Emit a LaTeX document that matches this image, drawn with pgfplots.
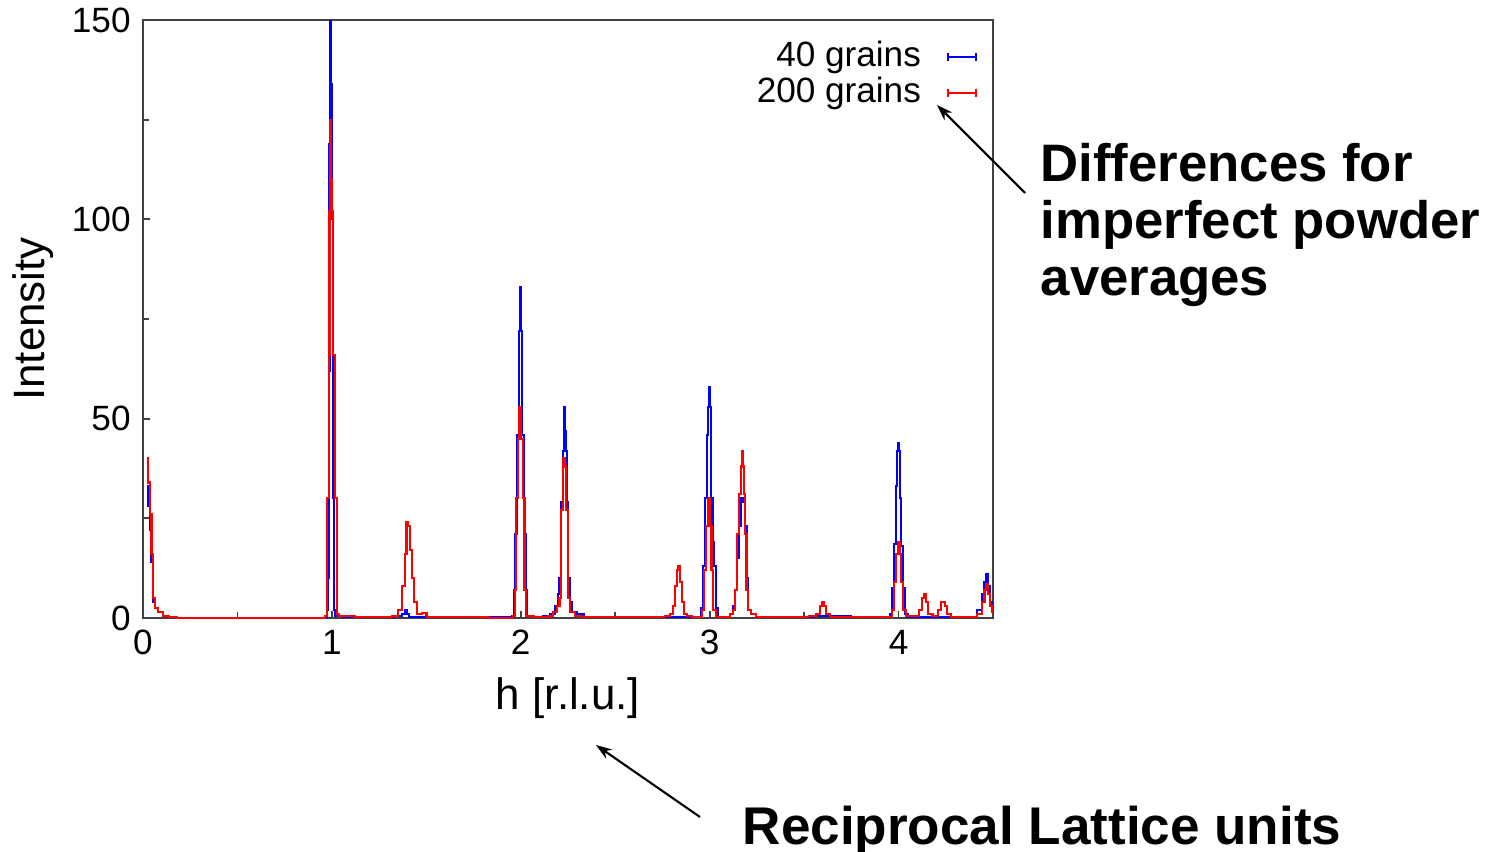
\documentclass[border=0pt]{standalone}
\usepackage{fontspec}
\setmainfont{Liberation Sans}
\usepackage{pgfplots}
\pgfplotsset{compat=1.18}
\usetikzlibrary{arrows.meta}

\begin{document}
\begin{tikzpicture}
\useasboundingbox (0,0) rectangle (14.95,8.51);
\begin{axis}[
    at={(1.43cm,2.33cm)}, anchor=south west,
    scale only axis, width=8.5cm, height=5.98cm,
    xmin=0, xmax=4.5, ymin=0, ymax=150,
    xtick={0,1,2,3,4}, ytick={0,50,100,150},
    minor x tick num=1, minor y tick num=1,
    xtick pos=left, ytick pos=left,
    tick align=inside,
    major tick length=0.07cm, minor tick length=0.06cm,
    axis line style={black!75, line width=0.6pt},
    every tick/.style={black!75, line width=0.5pt},
    tick label style={font=\fontsize{10}{10}\selectfont, /pgf/number format/assume math mode=true},
    xlabel={h [r.l.u.]}, ylabel={Intensity},
    label style={font=\fontsize{12.5}{12.5}\selectfont},
    xlabel style={at={(axis description cs:0.5,0)}, anchor=center, yshift=-0.80cm},
    ylabel style={at={(axis description cs:-0.1294,0.5)}, anchor=center},
    legend plot pos=right,
    legend cell align=right,
    legend style={draw=none, fill=none, at={(axis description cs:0.982,0.977)}, anchor=north east,
        font=\fontsize{10}{10}\selectfont, row sep=-2.5pt, inner sep=0pt},
]
\addplot[blue, line width=0.6pt, const plot mark mid,
    legend image code/.code={
        \path[draw=none, fill=none] (0cm,0cm) -- (0.2cm,0cm);
        \draw[blue, line width=0.6pt] (0.2cm,0cm) -- (0.48cm,0cm);
        \draw[blue, line width=0.6pt] (0.2cm,-0.04cm) -- (0.2cm,0.04cm);
        \draw[blue, line width=0.6pt] (0.48cm,-0.04cm) -- (0.48cm,0.04cm);}]
coordinates {
(0.02,33)(0.03,28)(0.04,22)(0.05,14)(0.06,4)(0.07,2.5)(0.09,1.5)(0.12,0.5)(0.16,0.2)(0.2,0)(0.5,0)(0.95,0)
(0.97,0)(0.975,2)(0.98,10)(0.985,62)(0.99,119)(0.995,150)(1.0,134)(1.005,100)(1.01,30)(1.015,2)(1.02,0.5)
(1.1,0.3)(1.3,0.3)(1.36,0.5)(1.38,1)(1.39,2)(1.40,1)(1.42,0.3)(1.6,0.2)(1.8,0.3)(1.95,0.3)
(1.96,0.5)(1.965,7)(1.975,21)(1.985,46)(1.995,72)(2.0,83)(2.005,72)(2.01,46)(2.02,21)(2.03,7)(2.04,0.5)
(2.1,0.3)(2.14,0.5)(2.17,1)(2.19,3)(2.2,6)(2.21,10)(2.22,29)(2.225,42)(2.23,53)(2.235,47)(2.24,42)(2.245,29)
(2.255,10)(2.265,4)(2.28,1.5)(2.32,1)(2.35,0.3)(2.5,0.2)(2.7,0.2)(2.8,0.3)
(2.95,0.3)(2.96,2.5)(2.97,13)(2.98,30)(2.99,46)(2.995,53)(3.0,58)(3.005,53)(3.01,30)(3.02,19)(3.03,13)(3.04,2.5)(3.05,0.3)
(3.1,0.3)(3.12,1)(3.13,3)(3.14,7)(3.15,15)(3.16,23)(3.17,30)(3.18,29)(3.19,23)(3.2,10)(3.21,2)(3.23,1)(3.26,0.3)
(3.5,0.3)(3.6,0.5)(3.7,0.5)(3.8,0.2)(3.9,0.2)
(3.95,0.3)(3.96,1)(3.97,7.5)(3.98,18.6)(3.99,33)(3.995,42)(4.0,44)(4.005,42)(4.01,30)(4.02,18)(4.03,7.5)(4.04,1)(4.06,0.3)
(4.3,0.3)(4.4,0.3)(4.43,2)(4.45,6)(4.46,9)(4.47,11)(4.48,8)(4.49,4)(4.5,2)
};
\addlegendentry{40 grains}
\addplot[red, line width=0.6pt, const plot mark mid,
    legend image code/.code={
        \path[draw=none, fill=none] (0cm,0cm) -- (0.2cm,0cm);
        \draw[red, line width=0.6pt] (0.2cm,0cm) -- (0.48cm,0cm);
        \draw[red, line width=0.6pt] (0.2cm,-0.04cm) -- (0.2cm,0.04cm);
        \draw[red, line width=0.6pt] (0.48cm,-0.04cm) -- (0.48cm,0.04cm);}]
coordinates {
(0.02,40)(0.03,34)(0.04,26)(0.05,16)(0.06,5)(0.07,2.5)(0.09,1.5)(0.12,0.5)(0.16,0.2)(0.2,0)(0.5,0)(0.96,0)
(0.97,0.5)(0.98,30)(0.985,66)(0.99,102)(0.995,125)(1.0,110)(1.005,102)(1.01,66)(1.02,30)(1.03,1)(1.04,0.5)(1.2,0.3)
(1.30,0.3)(1.34,0.5)(1.36,2)(1.38,8)(1.39,16)(1.40,24)(1.41,23)(1.42,17)(1.43,10)(1.44,4)(1.46,1)(1.49,1.2)(1.52,0.3)(1.7,0.2)(1.95,0)
(1.965,0.5)(1.97,7)(1.98,30)(1.99,45)(1.995,53)(2.005,45)(2.015,30)(2.025,7)(2.035,0.5)(2.1,0.3)
(2.13,0.3)(2.16,0.5)(2.18,1.5)(2.2,3)(2.21,5)(2.22,27)(2.23,40)(2.235,38)(2.245,27)(2.255,5)(2.27,1.5)(2.3,0.5)(2.35,0.2)(2.6,0.2)
(2.75,0.3)(2.78,0.5)(2.8,1)(2.81,3)(2.82,8)(2.83,12)(2.84,13)(2.85,9)(2.86,4)(2.87,1)(2.89,0.5)(2.92,0.3)
(2.955,0.3)(2.965,2)(2.975,12)(2.985,23)(2.995,30)(3.005,23)(3.015,12)(3.025,2)(3.04,0.3)
(3.10,0.3)(3.12,1)(3.13,2)(3.14,7)(3.15,21)(3.16,31)(3.17,38)(3.175,42)(3.18,38)(3.185,31)(3.19,21)(3.2,7)(3.21,2)(3.23,1)(3.26,0.3)
(3.5,0.3)(3.55,0.5)(3.58,1)(3.59,3)(3.6,4)(3.61,3)(3.62,1)(3.65,0.3)(3.9,0.2)
(3.96,0.3)(3.97,2)(3.98,9)(3.99,16)(4.0,19)(4.01,16)(4.02,9)(4.03,2)(4.05,0.5)(4.1,0.5)(4.12,2)(4.13,5)(4.14,6)(4.15,4)(4.16,1)
(4.2,0.5)(4.22,2)(4.23,4)(4.24,4)(4.25,3)(4.26,1)(4.3,0.3)(4.4,0.2)(4.43,1)(4.45,4)(4.46,7)(4.47,8.5)(4.48,6)(4.49,3)(4.5,1.5)
};
\addlegendentry{200 grains}
\end{axis}

% annotations
\node[anchor=north west, inner sep=0pt, align=left, font=\fontsize{15.0}{16.2}\selectfont\bfseries]
    at (10.40,7.08) {Differences for\\imperfect powder\\averages};
\draw[line width=0.6pt, -{Stealth[length=0.16cm, width=0.11cm]}] (10.25,6.58) -- (9.37,7.46);
\node[anchor=base west, inner sep=0pt, font=\fontsize{15.1}{16}\selectfont\bfseries]
    at (7.42,0.07) {Reciprocal Lattice units};
\draw[line width=0.6pt, -{Stealth[length=0.16cm, width=0.11cm]}] (7.00,0.34) -- (5.96,1.06);
\end{tikzpicture}
\end{document}
